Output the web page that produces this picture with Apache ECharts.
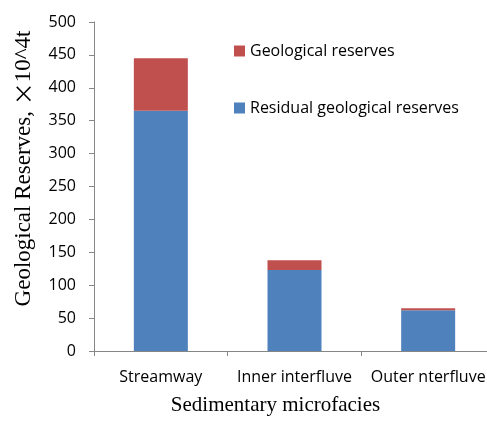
<!DOCTYPE html>
<html>
<head>
<meta charset="utf-8">
<script src="https://cdn.jsdelivr.net/npm/echarts@6/dist/echarts.min.js"></script>
<style>html,body{margin:0;padding:0;background:#fff;overflow:hidden}#c{width:500px;height:421px}</style>
</head>
<body>
<div id="c"></div>
<script>
const categories = ['Streamway', 'Inner interfluve', 'Outer nterfluve'];
const residualReserves = [365, 123, 62];
const geologicalExtra = [80, 15, 3];
const yTicks = [0, 50, 100, 150, 200, 250, 300, 350, 400, 450, 500];

const chart = echarts.init(document.getElementById('c'), null, {renderer: 'canvas'});
const sans = '"Open Sans", "Liberation Sans", sans-serif';
const serif = '"Liberation Serif", "DejaVu Serif", serif';
chart.setOption({
  animation: false,
  backgroundColor: '#fff',
  grid: {left: 94, top: 22, bottom: 67, right: 5, containLabel: false},
  legend: {
    orient: 'vertical', left: 229, top: 38, itemWidth: 11, itemHeight: 11, itemGap: 41,
    icon: 'rect',
    textStyle: {fontFamily: sans, fontSize: 16, color: '#000'},
    data: ['Geological reserves', 'Residual geological reserves']
  },
  xAxis: {
    type: 'category', data: categories,
    name: 'Sedimentary microfacies', nameLocation: 'middle', nameGap: 44,
    nameTextStyle: {fontFamily: serif, fontSize: 21, color: '#000', padding: [0, 38, 0, 0]},
    axisLine: {lineStyle: {color: '#868686'}},
    axisTick: {show: true, length: 5, lineStyle: {color: '#868686'}},
    axisLabel: {fontFamily: sans, fontSize: 16, color: '#000', margin: 18, interval: 0}
  },
  yAxis: {
    type: 'value', min: yTicks[0], max: yTicks[yTicks.length - 1], interval: 50,
    name: '{a|Geological Reserves, }{b|×}{a|10^4t}', nameLocation: 'middle', nameGap: 59,
    nameTextStyle: {
      fontFamily: serif, fontSize: 23, color: '#000', padding: [0, 0, 0, 36],
      rich: {
        a: {fontFamily: serif, fontSize: 23, color: '#000'},
        b: {fontFamily: '"Noto Sans CJK SC", serif', fontSize: 23, color: '#000'}
      }
    },
    axisLine: {show: true, lineStyle: {color: '#868686'}},
    axisTick: {show: true, length: 5, lineStyle: {color: '#868686'}},
    splitLine: {show: false},
    axisLabel: {fontFamily: sans, fontSize: 16, color: '#000', margin: 18}
  },
  series: [
    {name: 'Residual geological reserves', type: 'bar', stack: 's', data: residualReserves,
     barWidth: 54, itemStyle: {color: '#4F81BD'}},
    {name: 'Geological reserves', type: 'bar', stack: 's', data: geologicalExtra,
     barWidth: 54, itemStyle: {color: '#C0504D'}}
  ]
});
</script>
</body>
</html>
